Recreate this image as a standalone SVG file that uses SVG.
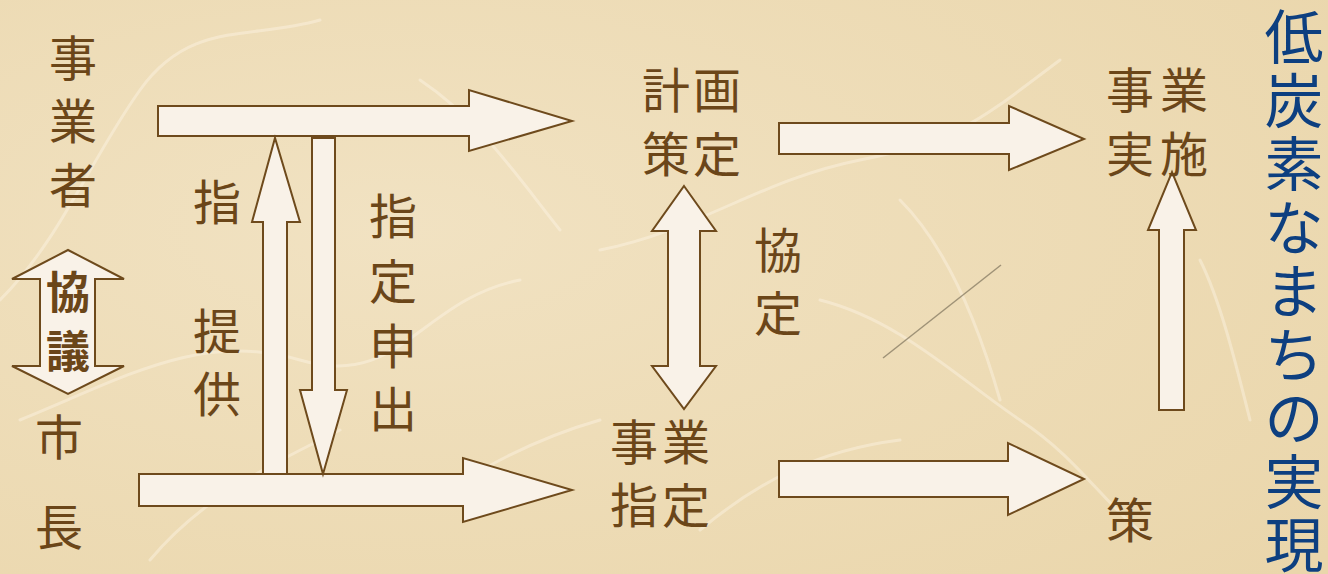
<svg xmlns="http://www.w3.org/2000/svg" width="1328" height="574" viewBox="0 0 1328 574">
<defs>
<style>
.arr{fill:#f9f2e8;stroke:#6e4a1c;stroke-width:2;stroke-linejoin:miter}
.t{font-family:"Noto Sans CJK JP","Noto Sans CJK SC",sans-serif;font-size:48px;fill:#6b4619;text-anchor:middle}
.tb{font-family:"Noto Sans CJK JP","Noto Sans CJK SC",sans-serif;font-size:44px;font-weight:bold;fill:#6b4619;text-anchor:middle}
.tt{font-family:"Noto Sans CJK JP","Noto Sans CJK SC",sans-serif;font-size:59px;fill:#0d3f80;text-anchor:middle}
.fib{fill:none;stroke:#fff8ea;stroke-width:3;opacity:0.4;stroke-linecap:round}
</style>
<radialGradient id="bg" cx="0.3" cy="0.4" r="0.9">
<stop offset="0" stop-color="#f1e2c2"/>
<stop offset="1" stop-color="#ead6ab"/>
</radialGradient>
</defs>
<g id="background">
<rect width="1328" height="574" fill="url(#bg)"/>
<path class="fib" d="M0 300 C60 240 90 160 140 90 S250 40 320 20"/>
<path class="fib" d="M20 420 C120 380 200 330 300 360 S420 300 520 280"/>
<path class="fib" d="M150 560 C200 500 260 470 340 430"/>
<path class="fib" d="M600 250 C700 230 760 180 860 160 S980 120 1060 60"/>
<path class="fib" d="M820 300 C900 320 960 380 1020 420 S1100 500 1150 540"/>
<path class="fib" d="M900 200 C950 250 980 330 1000 400"/>
<path class="fib" d="M700 530 C760 480 820 450 900 440"/>
<path class="fib" d="M420 80 C480 120 520 180 560 230"/>
<path class="fib" d="M1200 260 C1220 300 1235 360 1250 420"/>
<path class="fib" d="M430 500 C480 470 530 440 600 420"/>
<line x1="883" y1="358" x2="1001" y2="265" stroke="#857a62" stroke-width="1.5" opacity="0.75"/>
</g>
<g id="connectors">
<polygon class="arr" points="158,106 469,106 469,90 572,121 469,151 469,136 158,136"/>
<polygon class="arr" points="139,474 463,474 463,458 572,490 463,522 463,506 139,506"/>
<polygon class="arr" points="263,474 263,222 252,222 275,138 300,222 287,222 287,474"/>
<polygon class="arr" points="312,138 335,138 335,390 347,390 323,474 300,390 312,390"/>
<polygon class="arr" points="68,250 124,279 95,279 95,366 124,366 68,394 12,366 40,366 40,279 12,279"/>
<polygon class="arr" points="684,186 716,231 700,231 700,366 716,366 684,409 652,366 668,366 668,231 652,231"/>
<polygon class="arr" points="779,123 1009,123 1009,106 1084,139 1009,170 1009,154 779,154"/>
<polygon class="arr" points="779,461 1008,461 1008,443 1084,479 1008,515 1008,497 779,497"/>
<polygon class="arr" points="1159,410 1159,230 1148,230 1172,172 1196,230 1184,230 1184,410"/>
</g>
<g id="node-jigyosha">
<text class="t" x="73" y="76">事</text>
<text class="t" x="73" y="139">業</text>
<text class="t" x="73" y="203">者</text>
</g>
<g id="node-kyogi">
<text class="tb" x="68" y="309">協</text>
<text class="tb" x="68" y="368">議</text>
</g>
<g id="node-shicho">
<text class="t" x="59" y="455">市</text>
<text class="t" x="59" y="545">長</text>
</g>
<g id="label-shiteiteikyo">
<text class="t" x="217" y="220">指</text>
<text class="t" x="217" y="349">提</text>
<text class="t" x="217" y="412">供</text>
</g>
<g id="label-shiteimoushide">
<text class="t" x="393" y="234">指</text>
<text class="t" x="393" y="299">定</text>
<text class="t" x="393" y="364">申</text>
<text class="t" x="393" y="427">出</text>
</g>
<g id="node-keikaku">
<text class="t" x="666" y="108">計</text>
<text class="t" x="717" y="108">画</text>
<text class="t" x="666" y="172">策</text>
<text class="t" x="717" y="172">定</text>
</g>
<g id="label-kyotei">
<text class="t" x="778" y="268">協</text>
<text class="t" x="778" y="331">定</text>
</g>
<g id="node-jigyoshitei">
<text class="t" x="634" y="460">事</text>
<text class="t" x="686" y="460">業</text>
<text class="t" x="634" y="523">指</text>
<text class="t" x="686" y="523">定</text>
</g>
<g id="node-jigyojisshi">
<text class="t" x="1130" y="108">事</text>
<text class="t" x="1184" y="108">業</text>
<text class="t" x="1130" y="172">実</text>
<text class="t" x="1184" y="172">施</text>
</g>
<g id="node-saku">
<text class="t" x="1130" y="538">策</text>
</g>
<g id="title">
<text class="tt" x="1294" y="59">低</text>
<text class="tt" x="1294" y="123">炭</text>
<text class="tt" x="1294" y="186">素</text>
<text class="tt" x="1294" y="250">な</text>
<text class="tt" x="1294" y="313">ま</text>
<text class="tt" x="1294" y="377">ち</text>
<text class="tt" x="1294" y="440">の</text>
<text class="tt" x="1294" y="504">実</text>
<text class="tt" x="1294" y="567">現</text>
</g>
</svg>
